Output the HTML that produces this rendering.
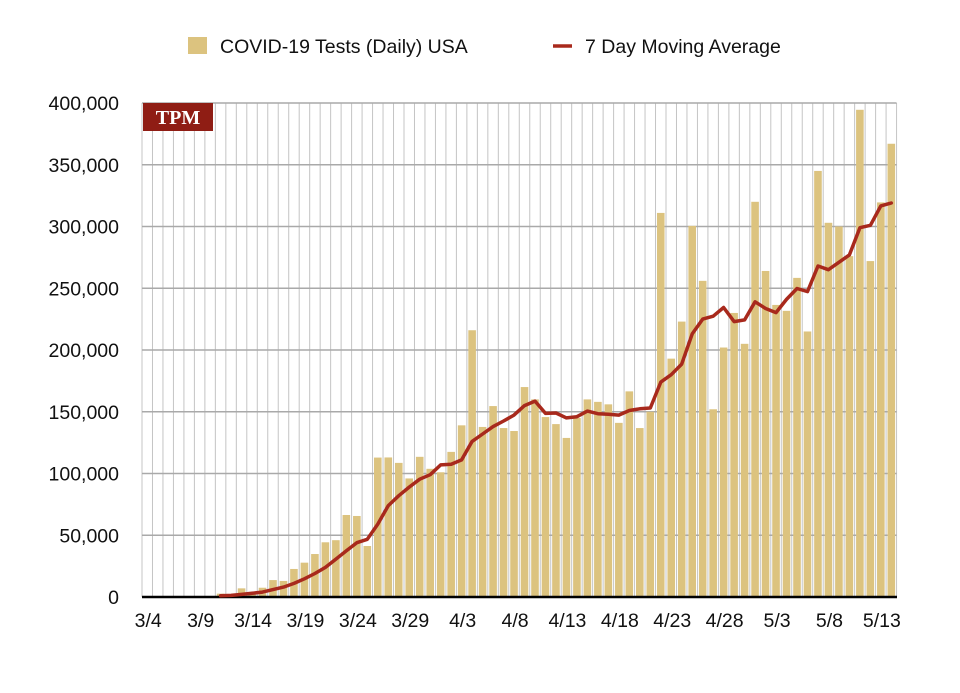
<!DOCTYPE html>
<html><head><meta charset="utf-8">
<style>
html,body{margin:0;padding:0;background:#fff;}
body{width:960px;height:688px;overflow:hidden;font-family:"Liberation Sans",Arial,sans-serif;}
</style></head>
<body>
<svg id="chart" width="960" height="688" viewBox="0 0 960 688" xmlns="http://www.w3.org/2000/svg">
  <g id="grid"></g>
  <g id="bars"></g>
  <g id="yticks"></g>
  <g id="xticks"></g>
  <line x1="142" y1="597" x2="897" y2="597" stroke="#000" stroke-width="2.5"/>
  <path id="avgline" fill="none" stroke="#a8291c" stroke-width="3.5" stroke-linejoin="round" stroke-linecap="round"/>
  <g>
    <rect x="143" y="103" width="70" height="28" fill="#8f1d14"/>
    <text x="178" y="124" text-anchor="middle" font-family="Liberation Serif,serif" font-weight="bold" font-size="20" fill="#fff">TPM</text>
  </g>
  <g>
    <rect x="188" y="37" width="19" height="17" fill="#dcc37f"/>
    <text x="220" y="53" font-size="19.5" fill="#111">COVID-19 Tests (Daily) USA</text>
    <line x1="553" y1="46" x2="572" y2="46" stroke="#a8291c" stroke-width="3.5"/>
    <text x="585" y="53" font-size="19.5" fill="#111">7 Day Moving Average</text>
  </g>
</svg>
<script>
const dateLabels = ["3/4","3/9","3/14","3/19","3/24","3/29","4/3","4/8","4/13","4/18","4/23","4/28","5/3","5/8","5/13"];
const yTickValues = [0,50000,100000,150000,200000,250000,300000,350000,400000];
const yTickLabels = ["0","50,000","100,000","150,000","200,000","250,000","300,000","350,000","400,000"];
const dailyTests = [0,0,0,0,0,0,0,2700,1200,7000,3000,7500,13700,13000,22700,27800,34800,44300,46000,66400,65600,41300,
  112900,113000,108600,96000,113500,103800,101000,117500,139000,216000,137700,154600,136800,134400,170000,160000,145700,140000,128800,145000,160000,158000,156000,
  141000,166500,136800,150000,311000,193000,223000,300500,256000,152000,202000,230000,205000,320000,264000,236500,231700,258400,215000,345000,303000,300000,276000,394500,272000,319500,367000];
const movingAvg = [null,null,null,null,null,null,null,1000,1300,2100,3000,4000,6000,8000,11000,14700,19000,24000,30700,37400,44000,46700,
  59000,74000,82000,89000,95400,99000,107000,107500,111000,126000,132000,138000,142500,147300,155000,158600,148700,149000,145000,146000,150500,148400,148000,
  147300,151000,152400,153000,174000,180000,188600,213000,225000,227400,234400,223000,224400,239000,233600,230300,241000,249800,247300,268000,265000,271000,277000,299000,301000,316700,319000];

const X0=142, SLOT=10.48, Y0=597, YTOP=103, YMAX=400000;
const xCenter = i => X0 + SLOT*(i+0.5);
const yScale = v => Y0 - (v/YMAX)*(Y0-YTOP);
const NS="http://www.w3.org/2000/svg";
const mk=(t,a)=>{const e=document.createElementNS(NS,t);for(const k in a)e.setAttribute(k,a[k]);return e;};
const grid=document.getElementById('grid'), bars=document.getElementById('bars');
const n=dailyTests.length;
for(let i=0;i<=n;i++){
  const x=X0+SLOT*i;
  const l=mk('line',{x1:x,y1:YTOP,x2:x,y2:Y0,stroke:'#c4c4c4','stroke-width':1});
  
  
  grid.appendChild(l);
}
yTickValues.forEach((v,i)=>{
  const y=yScale(v);
  if(v>0){
    const l=mk('line',{x1:X0,y1:y,x2:X0+SLOT*n,y2:y,stroke:'#a9a9a9','stroke-width':1.6});
    
    
    grid.appendChild(l);
  }
  const t=mk('text',{x:119,y:y+7,'text-anchor':'end','font-size':19.5,fill:'#111'});
  t.textContent=yTickLabels[i];
  
  
  document.getElementById('yticks').appendChild(t);
});
dailyTests.forEach((v,i)=>{
  if(v<=0)return;
  const y=yScale(v);
  const r=mk('rect',{x:xCenter(i)-3.8,y:y,width:7.6,height:Y0-y,fill:'#dcc37f'});
  
  
  bars.appendChild(r);
});
dateLabels.forEach((d,i)=>{
  const t=mk('text',{x:xCenter(i*5)+1,y:627,'text-anchor':'middle','font-size':19.5,fill:'#111'});
  t.textContent=d;
  
  
  document.getElementById('xticks').appendChild(t);
});
let dstr='';
movingAvg.forEach((v,i)=>{ if(v==null)return; dstr+=(dstr?'L':'M')+xCenter(i).toFixed(1)+','+yScale(v).toFixed(1); });
document.getElementById('avgline').setAttribute('d',dstr);
</script>
</body></html>
